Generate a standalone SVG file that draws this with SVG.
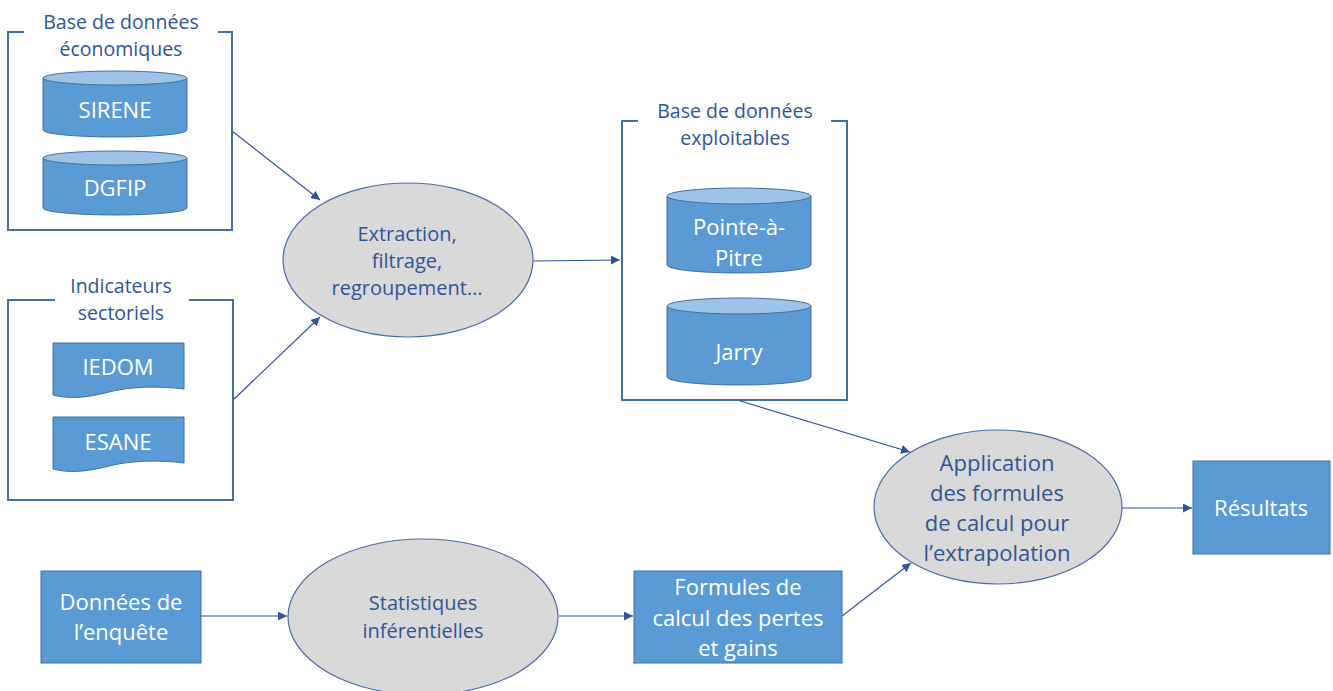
<svg xmlns="http://www.w3.org/2000/svg" width="1333" height="691" viewBox="0 0 1333 691">
<defs>
<style>
.bracket{fill:none;stroke:#41719C;stroke-width:2}
.ttl{font-family:"Open Sans","Liberation Sans",sans-serif;font-size:19.5px;fill:#2F5597;text-anchor:middle}
.lbl{font-family:"Open Sans","Liberation Sans",sans-serif;font-size:22px;fill:#FFFFFF;text-anchor:middle}
.etx{font-family:"Open Sans","Liberation Sans",sans-serif;font-size:20px;fill:#2F5597;text-anchor:middle}
.box{fill:#5B9BD5;stroke:#41719C;stroke-width:1}
.cyltop{fill:#9DC3E6;stroke:#41719C;stroke-width:1}
.ell{fill:#D9D9D9;stroke:#4A6CA8;stroke-width:1.2}
.conn{fill:none;stroke:#2F5597;stroke-width:1.2;marker-end:url(#arr)}
</style>
<marker id="arr" viewBox="0 0 10 10" refX="10" refY="5" markerWidth="9" markerHeight="9" markerUnits="userSpaceOnUse" orient="auto">
<path d="M0,0 L10,5 L0,10 Z" fill="#2F5597"/>
</marker>
</defs>

<g id="connectors">
<line class="conn" x1="232" y1="131" x2="320" y2="200"/>
<line class="conn" x1="233" y1="400" x2="320" y2="317"/>
<line class="conn" x1="533" y1="261" x2="620" y2="260"/>
<line class="conn" x1="737" y1="400" x2="910" y2="452"/>
<line class="conn" x1="842" y1="616" x2="911" y2="563"/>
<line class="conn" x1="1122" y1="508" x2="1192" y2="508"/>
<line class="conn" x1="201" y1="616" x2="287" y2="616"/>
<line class="conn" x1="559" y1="616" x2="633" y2="616"/>
</g>

<g id="base-economiques">
<path class="bracket" d="M24,32 H8 V230 H232 V32 H218"/>
<text class="ttl" x="121" y="29">Base de données</text>
<text class="ttl" x="121" y="56">économiques</text>
</g>

<g id="sirene">
<path class="box" d="M43,78 V130 A72,7 0 0 0 187,130 V78 Z"/>
<ellipse class="cyltop" cx="115" cy="78" rx="72" ry="7"/>
<text class="lbl" x="115" y="118">SIRENE</text>
</g>

<g id="dgfip">
<path class="box" d="M43,158 V208 A72,7 0 0 0 187,208 V158 Z"/>
<ellipse class="cyltop" cx="115" cy="158" rx="72" ry="7"/>
<text class="lbl" x="115" y="196">DGFIP</text>
</g>

<g id="indicateurs">
<path class="bracket" d="M55,300 H8 V500 H233 V300 H189"/>
<text class="ttl" x="121" y="293">Indicateurs</text>
<text class="ttl" x="121" y="320">sectoriels</text>
</g>

<g id="iedom">
<path class="box" d="M53,343 H184 V389 C160,386 130,386 105,393 C85,398 68,399 53,395 Z"/>
<text class="lbl" x="118" y="375">IEDOM</text>
</g>

<g id="esane">
<path class="box" d="M53,417 H184 V463 C160,460 130,460 105,467 C85,472 68,473 53,469 Z"/>
<text class="lbl" x="118" y="450">ESANE</text>
</g>

<g id="extraction">
<ellipse class="ell" cx="408" cy="260" rx="125" ry="77"/>
<text class="etx" x="407" y="241">Extraction,</text>
<text class="etx" x="407" y="268">filtrage,</text>
<text class="etx" x="407" y="295">regroupement…</text>
</g>

<g id="base-exploitables">
<path class="bracket" d="M638,121 H622 V400 H847 V121 H831"/>
<text class="ttl" x="735" y="118">Base de données</text>
<text class="ttl" x="735" y="145">exploitables</text>
</g>

<g id="pointe-a-pitre">
<path class="box" d="M667,196 V265 A72,8 0 0 0 811,265 V196 Z"/>
<ellipse class="cyltop" cx="739" cy="196" rx="72" ry="8"/>
<text class="lbl" x="739" y="235">Pointe-à-</text>
<text class="lbl" x="739" y="266">Pitre</text>
</g>

<g id="jarry">
<path class="box" d="M667,306 V377 A72,8 0 0 0 811,377 V306 Z"/>
<ellipse class="cyltop" cx="739" cy="306" rx="72" ry="8"/>
<text class="lbl" x="739" y="360">Jarry</text>
</g>

<g id="application">
<ellipse class="ell" cx="998" cy="507" rx="124" ry="77"/>
<text class="lbl" style="fill:#2F5597" x="997" y="471">Application</text>
<text class="lbl" style="fill:#2F5597" x="997" y="501">des formules</text>
<text class="lbl" style="fill:#2F5597" x="997" y="531">de calcul pour</text>
<text class="lbl" style="fill:#2F5597" x="997" y="561">l’extrapolation</text>
</g>

<g id="resultats">
<rect class="box" x="1193" y="461" width="137" height="93"/>
<text class="lbl" x="1261" y="516">Résultats</text>
</g>

<g id="donnees-enquete">
<rect class="box" x="41" y="571" width="160" height="92"/>
<text class="lbl" x="121" y="610">Données de</text>
<text class="lbl" x="121" y="640">l’enquête</text>
</g>

<g id="statistiques">
<ellipse class="ell" cx="423" cy="617" rx="135" ry="78"/>
<text class="etx" x="423" y="610">Statistiques</text>
<text class="etx" x="423" y="638">inférentielles</text>
</g>

<g id="formules">
<rect class="box" x="634" y="571" width="208" height="92"/>
<text class="lbl" x="738" y="595">Formules de</text>
<text class="lbl" x="738" y="626">calcul des pertes</text>
<text class="lbl" x="738" y="656">et gains</text>
</g>
</svg>
